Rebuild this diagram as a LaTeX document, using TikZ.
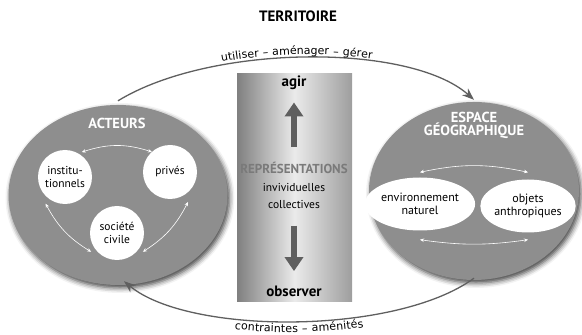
\documentclass[tikz,border=0pt]{standalone}
\usepackage{fontspec}
\setmainfont{PT Sans}
\newfontfamily\arcfont[LetterSpace=4]{DejaVu Sans}
\usetikzlibrary{arrows.meta,positioning,calc,shapes.geometric,decorations.text,shadows.blur}

\definecolor{zonegray}{HTML}{8E8E8E}
\definecolor{arcgray}{HTML}{5F5F5F}
\definecolor{repgray}{HTML}{7A7A7A}

\tikzset{
  zone/.style={ellipse, fill=zonegray, inner sep=0pt,
    blur shadow={shadow xshift=2pt, shadow yshift=-3pt, shadow blur radius=5pt, shadow opacity=75}},
  actor/.style={circle, fill=white, minimum size=54pt, inner sep=0pt, align=center,
    font=\fontsize{11.5}{12.5}\selectfont},
  element/.style={ellipse, fill=white, inner sep=0pt, align=center,
    font=\fontsize{12}{12.5}\selectfont},
  zonetitle/.style={text=white, align=center, font=\bfseries\fontsize{14.5}{13}\selectfont},
  link/.style={white, line width=0.6pt, {Stealth[length=4pt,width=3.5pt]}-{Stealth[length=4pt,width=3.5pt]}},
  flow/.style={arcgray, line width=1.3pt, -{Stealth[length=12pt,width=9pt]}},
  bigarrow/.style={arcgray, line width=6pt, -{Triangle[length=14pt,width=18pt]}},
  arctext/.style={decorate, decoration={text along path, text align=center, raise=#1,
    text={|\arcfont\fontsize{11}{12}\selectfont|\arclabel}}},
}

\begin{document}
\begin{tikzpicture}[x=1pt,y=1pt]
    \useasboundingbox (0,0) rectangle (582,335);

    \node[font=\bfseries\fontsize{15}{17}\selectfont] (terr) at (298,319) {TERRITOIRE};

    % Acteurs
    \node[zone, minimum width=219pt, minimum height=180pt] (act) at (118,140) {};
    \node[zonetitle] (actt) at (117,212) {ACTEURS};
    \node[actor] (inst) at (65,158) {institu-\\tionnels};
    \node[actor] (priv) at (170,163) {privés};
    \node[actor] (soc) at (117,102) {société\\civile};
    \draw[link] ($(inst)+(56:30)$) to[bend left=18] ($(priv)+(132:27)$);
    \draw[link] ($(inst)+(234:33)$) to[bend right=15] ($(soc)+(216:32)$);
    \draw[link] ($(priv)+(301:35)$) to[bend left=15] ($(soc)+(324:32)$);

    % Espace geographique
    \node[zone, minimum width=210pt, minimum height=178pt] (esp) at (474,144) {};
    \node[zonetitle] (espt) at (474,210) {ESPACE\\GÉOGRAPHIQUE};
    \node[element, minimum width=84pt, minimum height=53pt] (env) at (420,131) {environnement\\naturel};
    \node[element, minimum width=78pt, minimum height=53pt] (obj) at (528,129) {objets\\anthropiques};
    \draw[link] ([yshift=5pt]env.north) to[bend left=12] ([yshift=7pt]obj.north);
    \draw[link] ([yshift=-9pt]env.south) to[bend right=8] ([yshift=-7pt]obj.south);

    % Representations
    \node[minimum width=115pt, minimum height=228pt, left color=black!50, right color=black!38,
      middle color=black!8] (repr) at (294.5,147) {};
    \node[font=\bfseries\fontsize{15}{17}\selectfont] (agir) at (294,252) {agir};
    \node[font=\bfseries\fontsize{13}{15}\selectfont, text=repgray] (rep) at (294,167) {REPRÉSENTATIONS};
    \node[font=\fontsize{11.5}{13}\selectfont] (indiv) at (294,148) {invividuelles};
    \node[font=\fontsize{11.5}{13}\selectfont] (coll) at (294,131) {collectives};
    \node[font=\bfseries\fontsize{15}{17}\selectfont] (obs) at (294,44) {observer};
    \draw[bigarrow] ([yshift=12pt]rep.north) -- ([yshift=-9pt]agir.south);
    \draw[bigarrow] ([yshift=-14pt]coll.south) -- ([yshift=11pt]obs.north);

    % Arcs
    \draw[flow] ([yshift=4pt]act.north) .. controls +(93,57) and +(-64,57) .. ([yshift=2pt]esp.north);
    \def\arclabel{utiliser – aménager – gérer}
    \path[arctext=3pt] ([yshift=4pt]act.north) .. controls +(93,57) and +(-64,57) .. ([yshift=2pt]esp.north);
    \draw[flow] ([yshift=2pt]esp.south) .. controls +(-78,-57) and +(65,-54) .. ([shift={(6pt,4pt)}]act.south);
    \def\arclabel{contraintes – aménités}
    \path[arctext=-11pt] ([shift={(6pt,4pt)}]act.south) .. controls +(65,-54) and +(-78,-57) .. ([yshift=2pt]esp.south);
\end{tikzpicture}
\end{document}
